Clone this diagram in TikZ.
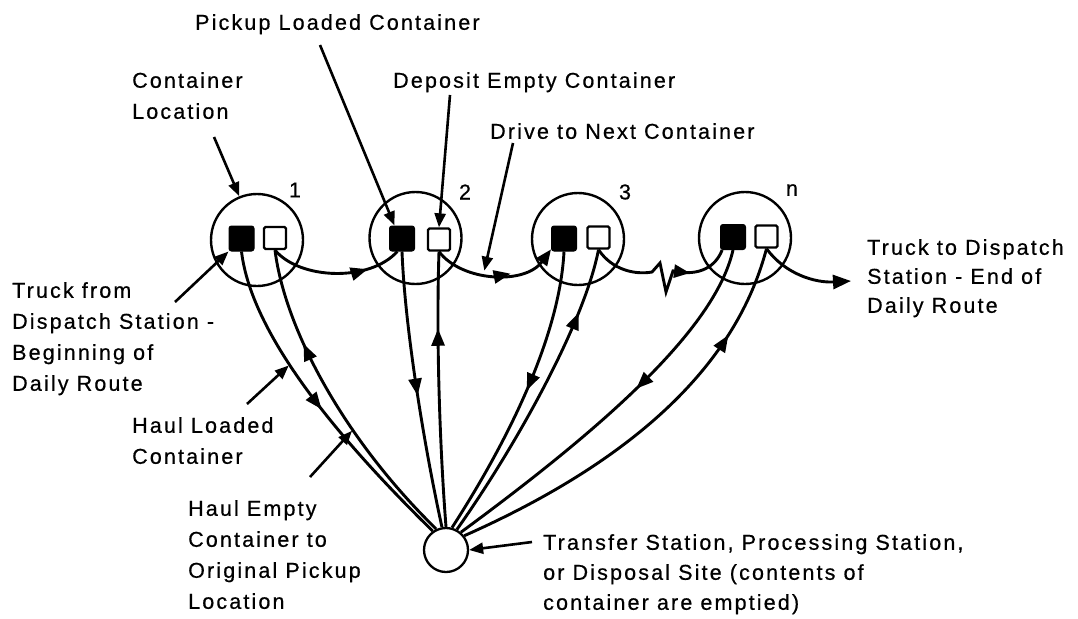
\documentclass[tikz,border=0pt]{standalone}
\usepackage{fontspec}
\setmainfont{Liberation Sans}[LetterSpace=10,FakeBold=0.6]
\usetikzlibrary{arrows.meta,decorations.markings}
\begin{document}
\begin{tikzpicture}[x=1pt,y=-1pt,
  lbl/.style={anchor=north west,inner sep=0pt,align=left,font=\fontsize{21.5}{31}\selectfont},
  lblr/.style={anchor=north west,inner sep=0pt,align=left,font=\fontsize{21.5}{29}\selectfont},
  lblt/.style={anchor=north west,inner sep=0pt,align=left,font=\fontsize{21.5}{30}\selectfont},
  num/.style={inner sep=0pt,font=\fontsize{21.5}{24}\selectfont},
  loc/.style={circle,draw,line width=2.4pt,minimum size=92pt,inner sep=0pt},
  site/.style={circle,draw,line width=2.3pt,minimum size=44pt,inner sep=0pt},
  full/.style={draw,fill=black,rounded corners=2.5pt,minimum size=25pt,inner sep=0pt,line width=1pt},
  empt/.style={draw,fill=white,rounded corners=1.5pt,minimum size=22pt,inner sep=0pt,line width=2.3pt},
  route/.style={line width=2.9pt},
  tipA/.style={-{Triangle[length=16pt,width=13pt]}},
  leader/.style={line width=2.6pt,-{Triangle[length=14pt,width=11pt]}},
  midarr/.style={postaction={decorate,decoration={markings,mark=at position #1 with {\arrow{Triangle[length=17pt,width=13pt]}}}}},
]
\useasboundingbox (0,0) rectangle (1078,618);

% container locations
\node[loc] (c1) at (257,240) {};
\node[loc] (c2) at (415.5,238) {};
\node[loc] (c3) at (578,239) {};
\node[loc] (c4) at (745,238) {};
\node[full] (b1) at (241.5,238.5) {};
\node[empt] (w1) at (275,238) {};
\node[full] (b2) at (402,238.5) {};
\node[empt] (w2) at (439,239.5) {};
\node[full] (b3) at (564,238.5) {};
\node[empt] (w3) at (598.5,237.5) {};
\node[full] (b4) at (733,237) {};
\node[empt] (w4) at (766.5,236.5) {};
\node[site] (site) at (446,550) {};

% numbers
\node[num] (n1) at (295,190) {1};
\node[num] (n2) at (465,192) {2};
\node[num] (n3) at (625,192) {3};
\node[num] (n4) at (792,190) {n};

% haul routes
\draw[route,midarr=0.52] (b1.south) .. controls (252,340) and (350,450) .. (site.125)
  coordinate[pos=0.40] (hl);
\draw[route,midarr=0.7] (site.115) .. controls (345,440) and (285,330) .. (w1.south)
  coordinate[pos=0.35] (he);
\draw[route,midarr=0.52] (b2.south) .. controls (405,330) and (425,450) .. (site.100);
\draw[route,midarr=0.72] (site.90) .. controls (440,450) and (436,340) .. (w2.south);
\draw[route,midarr=0.48] (b3.south) .. controls (560,330) and (515,430) .. (site.75);
\draw[route,midarr=0.79] (site.62) .. controls (520,440) and (585,320) .. (w3.south);
\draw[route,midarr=0.43] (b4.south) .. controls (715,330) and (600,430) .. (site.50);
\draw[route,midarr=0.78] (site.38) .. controls (680,440) and (745,330) .. (w4.south);

% drive routes
\draw[route,midarr=0.74] (w1.south) .. controls (300,280) and (370,282) .. (b2.250);
\draw[route,midarr=0.62,tipA] (w2.south) .. controls (462,282) and (525,285) .. (b3.220)
  coordinate[pos=0.42] (drv);
\draw[route] (w3.south) .. controls (612,270) and (635,275) .. (652,272)
  -- (660,263) -- (666,292) -- (673,271) coordinate (zz)
  .. controls (700,277) and (716,266) .. (b4.230);
\draw[route,tipA] (zz) -- ++(17,2);
\coordinate (dispEnd) at (851,281);
\draw[route,-{Triangle[length=18pt,width=14pt]}] (w4.south) .. controls (785,274) and (815,283) .. (dispEnd);

% labels
\node[lbl] (tPick) at (195,14) {Pickup Loaded Container};
\node[lbl] (tLoc) at (132,72) {Container\\Location};
\node[lbl] (tDep) at (393,72) {Deposit Empty Container};
\node[lbl] (tDrv) at (490,123) {Drive to Next Container};
\node[lbl] (tTF) at (12,282) {Truck from\\Dispatch Station -\\Beginning of\\Daily Route};
\node[lbl] (tHL) at (132,417) {Haul Loaded\\Container};
\node[lbl] (tHE) at (188,500) {Haul Empty\\Container to\\Original Pickup\\Location};
\node[lblr] (tTD) at (867,239) {Truck to Dispatch\\Station - End of\\Daily Route};
\node[lblt] (tTS) at (543,534) {Transfer Station, Processing Station,\\or Disposal Site (contents of\\container are emptied)};

% leaders
\coordinate (sLoc) at (214,137);
\coordinate (sPick) at (320,45);
\coordinate (sDep) at (450,95);
\coordinate (sDrv) at (513,143);
\coordinate (sTF) at (175,302);
\coordinate (sHL) at (247,404);
\coordinate (sHE) at (310,477);
\coordinate (sTS) at (532,542);
\draw[leader] (sLoc) -- (c1.112);
\draw[leader] (sPick) -- (b2.120);
\draw[leader] (sDep) -- (w2.north);
\draw[leader,shorten >=4pt] (sDrv) -- (drv);
\draw[leader] (sTF) -- (b1.south west);
\draw[leader,shorten >=1pt] (sHL) -- (hl);
\draw[leader,shorten >=1pt] (sHE) -- (he);
\draw[leader] (sTS) -- (site.east);
\end{tikzpicture}
\end{document}
